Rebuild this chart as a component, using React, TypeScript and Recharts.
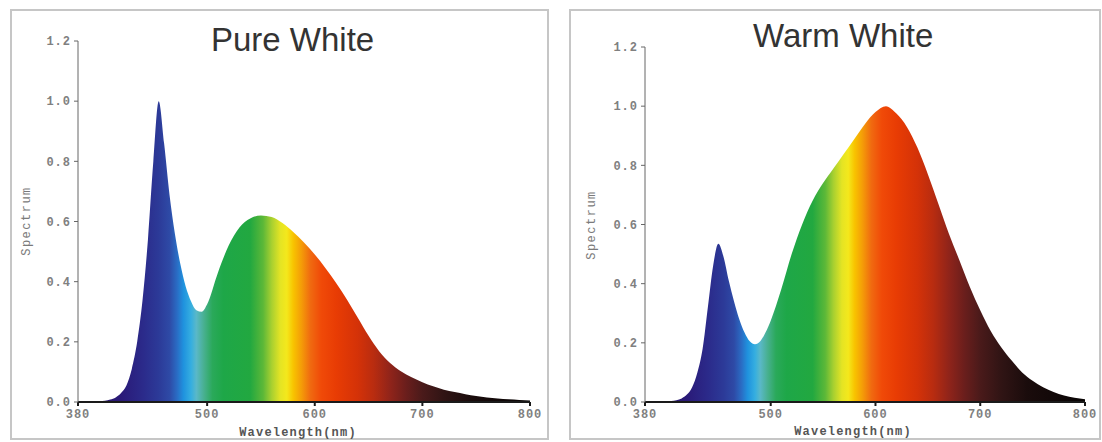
import { AreaChart, Area, XAxis, YAxis } from "recharts";

// wavelength samples (nm)
const wavelengths = [
  380, 390, 400, 410, 415, 420, 425, 430, 435, 440, 445, 450, 455, 460, 465, 470, 475, 480, 485, 490,
  495, 500, 510, 520, 530, 540, 550, 560, 570, 580, 590, 600, 610, 620, 630, 640, 650, 660, 670, 680,
  690, 700, 710, 720, 730, 740, 750, 760, 770, 780, 790, 800,
];

const pureWhite = [
  0, 0, 0.002, 0.008, 0.015, 0.03, 0.055, 0.11, 0.2, 0.34, 0.54, 0.8, 1.0, 0.86, 0.69, 0.56, 0.46, 0.385, 0.335, 0.305,
  0.3, 0.325, 0.43, 0.52, 0.58, 0.61, 0.62, 0.615, 0.595, 0.565, 0.53, 0.49, 0.445, 0.395, 0.34, 0.28, 0.22, 0.168, 0.13, 0.102,
  0.082, 0.066, 0.052, 0.041, 0.033, 0.026, 0.02, 0.015, 0.012, 0.009, 0.007, 0.005,
];

const warmWhite = [
  0, 0, 0.002, 0.006, 0.012, 0.025, 0.05, 0.1, 0.18, 0.32, 0.46, 0.535, 0.49, 0.41, 0.34, 0.28, 0.235, 0.205, 0.195, 0.205,
  0.235, 0.275, 0.38, 0.5, 0.6, 0.68, 0.74, 0.79, 0.84, 0.89, 0.94, 0.98, 1.0, 0.975, 0.93, 0.86, 0.77, 0.67, 0.57, 0.48,
  0.39, 0.31, 0.24, 0.185, 0.14, 0.1, 0.072, 0.05, 0.034, 0.022, 0.014, 0.009,
];

const xTicks = [380, 500, 600, 700, 800];
const yTicks = [0, 0.2, 0.4, 0.6, 0.8, 1.0, 1.2];

// spectrum colours by wavelength
const stopNm = [380, 420, 440, 455, 465, 472, 478, 485, 490, 497, 505, 515, 540, 552, 560, 568, 574, 580, 588, 596, 606, 620, 640, 655, 670, 685, 700, 720, 745, 800];
const stopColor = [
  "#2a1560", "#2a1a78", "#2b2a8a", "#2c3a98", "#2e4aa6", "#2a6cc4", "#1f92de", "#35aee0", "#5ab8c8", "#48b090",
  "#2aa95a", "#1ea748", "#22a840", "#5cb838", "#a8d030", "#e4e424", "#f4e81c", "#f8c400", "#f49a08", "#f06a10",
  "#f04a08", "#e83c04", "#d43208", "#b82c10", "#90241a", "#6a1e1c", "#4a1a1a", "#301414", "#1a0c0c", "#080404",
];

const monoTick = { fontSize: 12, fontFamily: "Liberation Mono", fill: "#808080", fontWeight: 700, letterSpacing: 1 };

function SpectrumPanel({ values, gradId, left, width, margin }: any) {
  const data = wavelengths.map((w, i) => ({ w, v: values[i] }));
  return (
    <div style={{ position: "absolute", left, top: 0, width, height: 442 }}>
      <AreaChart width={width} height={442} data={data} margin={margin}>
        <defs>
          <linearGradient id={gradId} x1="0" y1="0" x2="1" y2="0">
            {stopNm.map((nm, i) => (
              <stop key={nm} offset={(nm - 380) / 420} stopColor={stopColor[i]} />
            ))}
          </linearGradient>
        </defs>
        <XAxis
          dataKey="w"
          type="number"
          domain={[380, 800]}
          ticks={xTicks}
          height={20}
          stroke="#1a1a1a"
          strokeWidth={2}
          tickSize={4}
          tickMargin={3}
          tick={monoTick}
          interval={0}
        />
        <YAxis
          domain={[0, 1.2]}
          ticks={yTicks}
          width={40}
          stroke="#666"
          tickSize={4}
          tickMargin={3}
          tick={monoTick}
          tickFormatter={(v: number) => v.toFixed(1)}
          interval={0}
        />
        <Area
          type="monotone"
          dataKey="v"
          stroke="none"
          fill={`url(#${gradId})`}
          fillOpacity={1}
          isAnimationActive={false}
        />
      </AreaChart>
    </div>
  );
}

export default function App() {
  const panel = { position: "absolute" as const, top: 9, height: 431, border: "2px solid #c6c6c6", boxSizing: "border-box" as const };
  const titleStyle = { fontFamily: "Liberation Sans", fontSize: 33, fill: "#333" };
  const yLabel = { fontFamily: "Liberation Mono", fontSize: 12, fill: "#7a7a7a", letterSpacing: 1.5 };
  const xLabel = { fontFamily: "Liberation Mono", fontSize: 12, fontWeight: 700, fill: "#555", letterSpacing: 1.2 };
  return (
    <div style={{ position: "absolute", left: 0, top: 0, width: 1102, height: 442, background: "#fff", overflow: "hidden" }}>
      <div style={{ ...panel, left: 10, width: 539 }} />
      <div style={{ ...panel, left: 569, width: 532 }} />
      <SpectrumPanel values={pureWhite} gradId="gradPure" left={0} width={548} margin={{ top: 41, right: 18, bottom: 20, left: 38 }} />
      <SpectrumPanel values={warmWhite} gradId="gradWarm" left={560} width={542} margin={{ top: 47, right: 17, bottom: 20, left: 45 }} />
      <svg width={1102} height={442} style={{ position: "absolute", left: 0, top: 0, pointerEvents: "none" }}>
        <text x={211} y={51} style={titleStyle}>Pure White</text>
        <text x={753} y={47} style={titleStyle}>Warm White</text>
        <text x={27} y={221} transform="rotate(-90 27 221)" textAnchor="middle" dominantBaseline="central" style={yLabel}>Spectrum</text>
        <text x={592} y={225} transform="rotate(-90 592 225)" textAnchor="middle" dominantBaseline="central" style={yLabel}>Spectrum</text>
        <text x={298} y={433} textAnchor="middle" dominantBaseline="central" style={xLabel}>Wavelength(nm)</text>
        <text x={853} y={432} textAnchor="middle" dominantBaseline="central" style={xLabel}>Wavelength(nm)</text>
      </svg>
    </div>
  );
}
